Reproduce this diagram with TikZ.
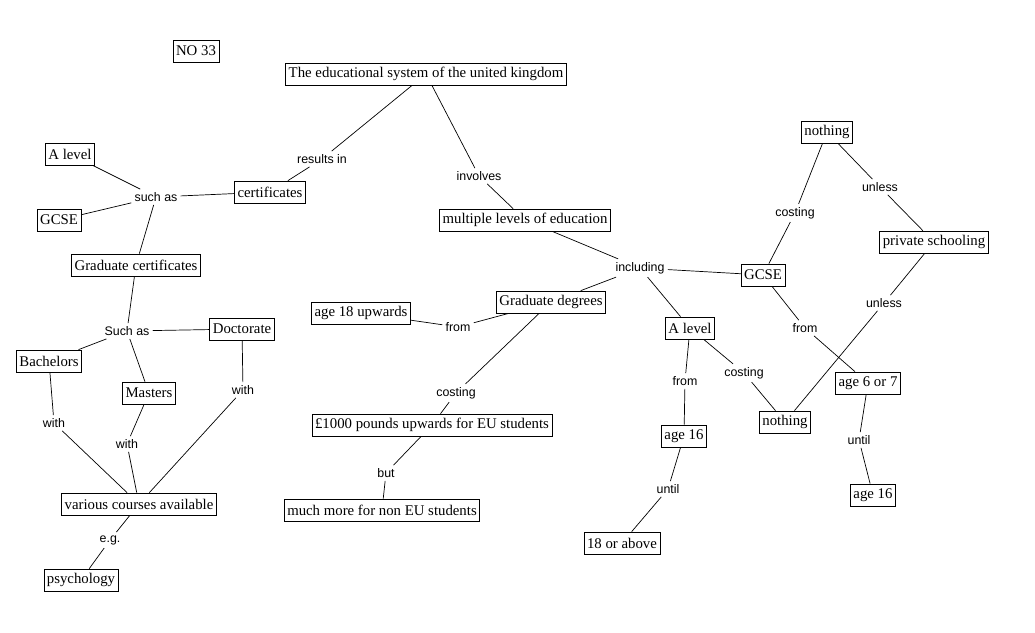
\documentclass[tikz,border=0pt]{standalone}
\usepackage{fontspec}
\setmainfont{Liberation Serif}
\setsansfont{Liberation Sans}
\usepackage{tikz}

\begin{document}
\begin{tikzpicture}[x=1pt,y=-1pt,line width=0.7pt]
\tikzstyle{concept}=[draw,rectangle,inner sep=3pt,minimum height=22pt,font=\fontsize{14.8}{16}\selectfont]
\tikzstyle{link}=[inner sep=3pt,font=\sffamily\fontsize{12.4}{14}\selectfont]
\useasboundingbox (0,0) rectangle (1035,632);
\node [concept] (no) at (196,51) {NO 33};
\node [concept] (title) at (426,74) {The educational system of the united kingdom};
\node [concept] (alevA) at (70,154) {A level};
\node [concept] (gcseA) at (59,220) {GCSE};
\node [concept] (cert) at (270,192) {certificates};
\node [concept] (gradc) at (136,265) {Graduate certificates};
\node [concept] (doct) at (242,329) {Doctorate};
\node [concept] (bach) at (49,361) {Bachelors};
\node [concept] (mast) at (149,393) {Masters};
\node [concept] (courses) at (139,504) {various courses available};
\node [concept] (psych) at (81,580) {psychology};
\node [concept] (levels) at (525,220) {multiple levels of education};
\node [concept] (gradd) at (551,302) {Graduate degrees};
\node [concept] (age18) at (361,313) {age 18 upwards};
\node [concept] (eu) at (432,425) {£1000 pounds upwards for EU students};
\node [concept] (noneu) at (382,510) {much more for non EU students};
\node [concept] (alevB) at (690,328) {A level};
\node [concept] (ageB) at (684,436) {age 16};
\node [concept] (above) at (622,543) {18 or above};
\node [concept] (gcseB) at (763,275) {GCSE};
\node [concept] (nothA) at (827,132) {nothing};
\node [concept] (priv) at (934,242) {private schooling};
\node [concept] (nothB) at (785,422) {nothing};
\node [concept] (six) at (868,383) {age 6 or 7};
\node [concept] (ageC) at (873,495) {age 16};
% linking phrases
\node [link] (resin) at (322,159) {results in};
\node [link] (such) at (156,197) {such as};
\node [link] (inv) at (479,176) {involves};
\node [link] (suchB) at (127,331) {Such as};
\node [link] (withA) at (54,423) {with};
\node [link] (withB) at (127,444) {with};
\node [link] (withC) at (243,390) {with};
\node [link] (eg) at (110,540) {e.g.};
\node [link] (incl) at (640,268) {including};
\node [link] (fromA) at (458,327) {from};
\node [link] (costA) at (456,393) {costing};
\node [link] (but) at (386,473) {but};
\node [link] (fromB) at (685,381) {from};
\node [link] (costB) at (744,373) {costing};
\node [link] (untA) at (668,489) {until};
\node [link] (costC) at (795,213) {costing};
\node [link] (unlA) at (880,187) {unless};
\node [link] (fromC) at (805,328) {from};
\node [link] (unlB) at (884,303) {unless};
\node [link] (untB) at (859,440) {until};
\path
    (title) edge (resin)
    (resin) edge (cert)
    (cert) edge (such)
    (such) edge (alevA)
    (such) edge (gcseA)
    (such) edge (gradc);
\path
    (gradc) edge (suchB)
    (suchB) edge (bach)
    (suchB) edge (mast)
    (suchB) edge (doct);
\path
    (bach) edge (withA)
    (withA) edge (courses)
    (mast) edge (withB)
    (withB) edge (courses)
    (doct) edge (withC)
    (withC) edge (courses)
    (courses) edge (eg)
    (eg) edge (psych);
\path
    (title) edge (inv)
    (inv) edge (levels)
    (levels) edge (incl)
    (incl) edge (gradd)
    (incl) edge (alevB)
    (incl) edge (gcseB);
\path
    (gradd) edge (fromA)
    (fromA) edge (age18)
    (gradd) edge (costA)
    (costA) edge (eu)
    (eu) edge (but)
    (but) edge (noneu);
\path
    (alevB) edge (fromB)
    (fromB) edge (ageB)
    (ageB) edge (untA)
    (untA) edge (above)
    (alevB) edge (costB)
    (costB) edge (nothB);
\path
    (gcseB) edge (costC)
    (costC) edge (nothA)
    (nothA) edge (unlA)
    (unlA) edge (priv)
    (priv) edge (unlB)
    (unlB) edge (nothB)
    (gcseB) edge (fromC)
    (fromC) edge (six)
    (six) edge (untB)
    (untB) edge (ageC);
\end{tikzpicture}
\end{document}
